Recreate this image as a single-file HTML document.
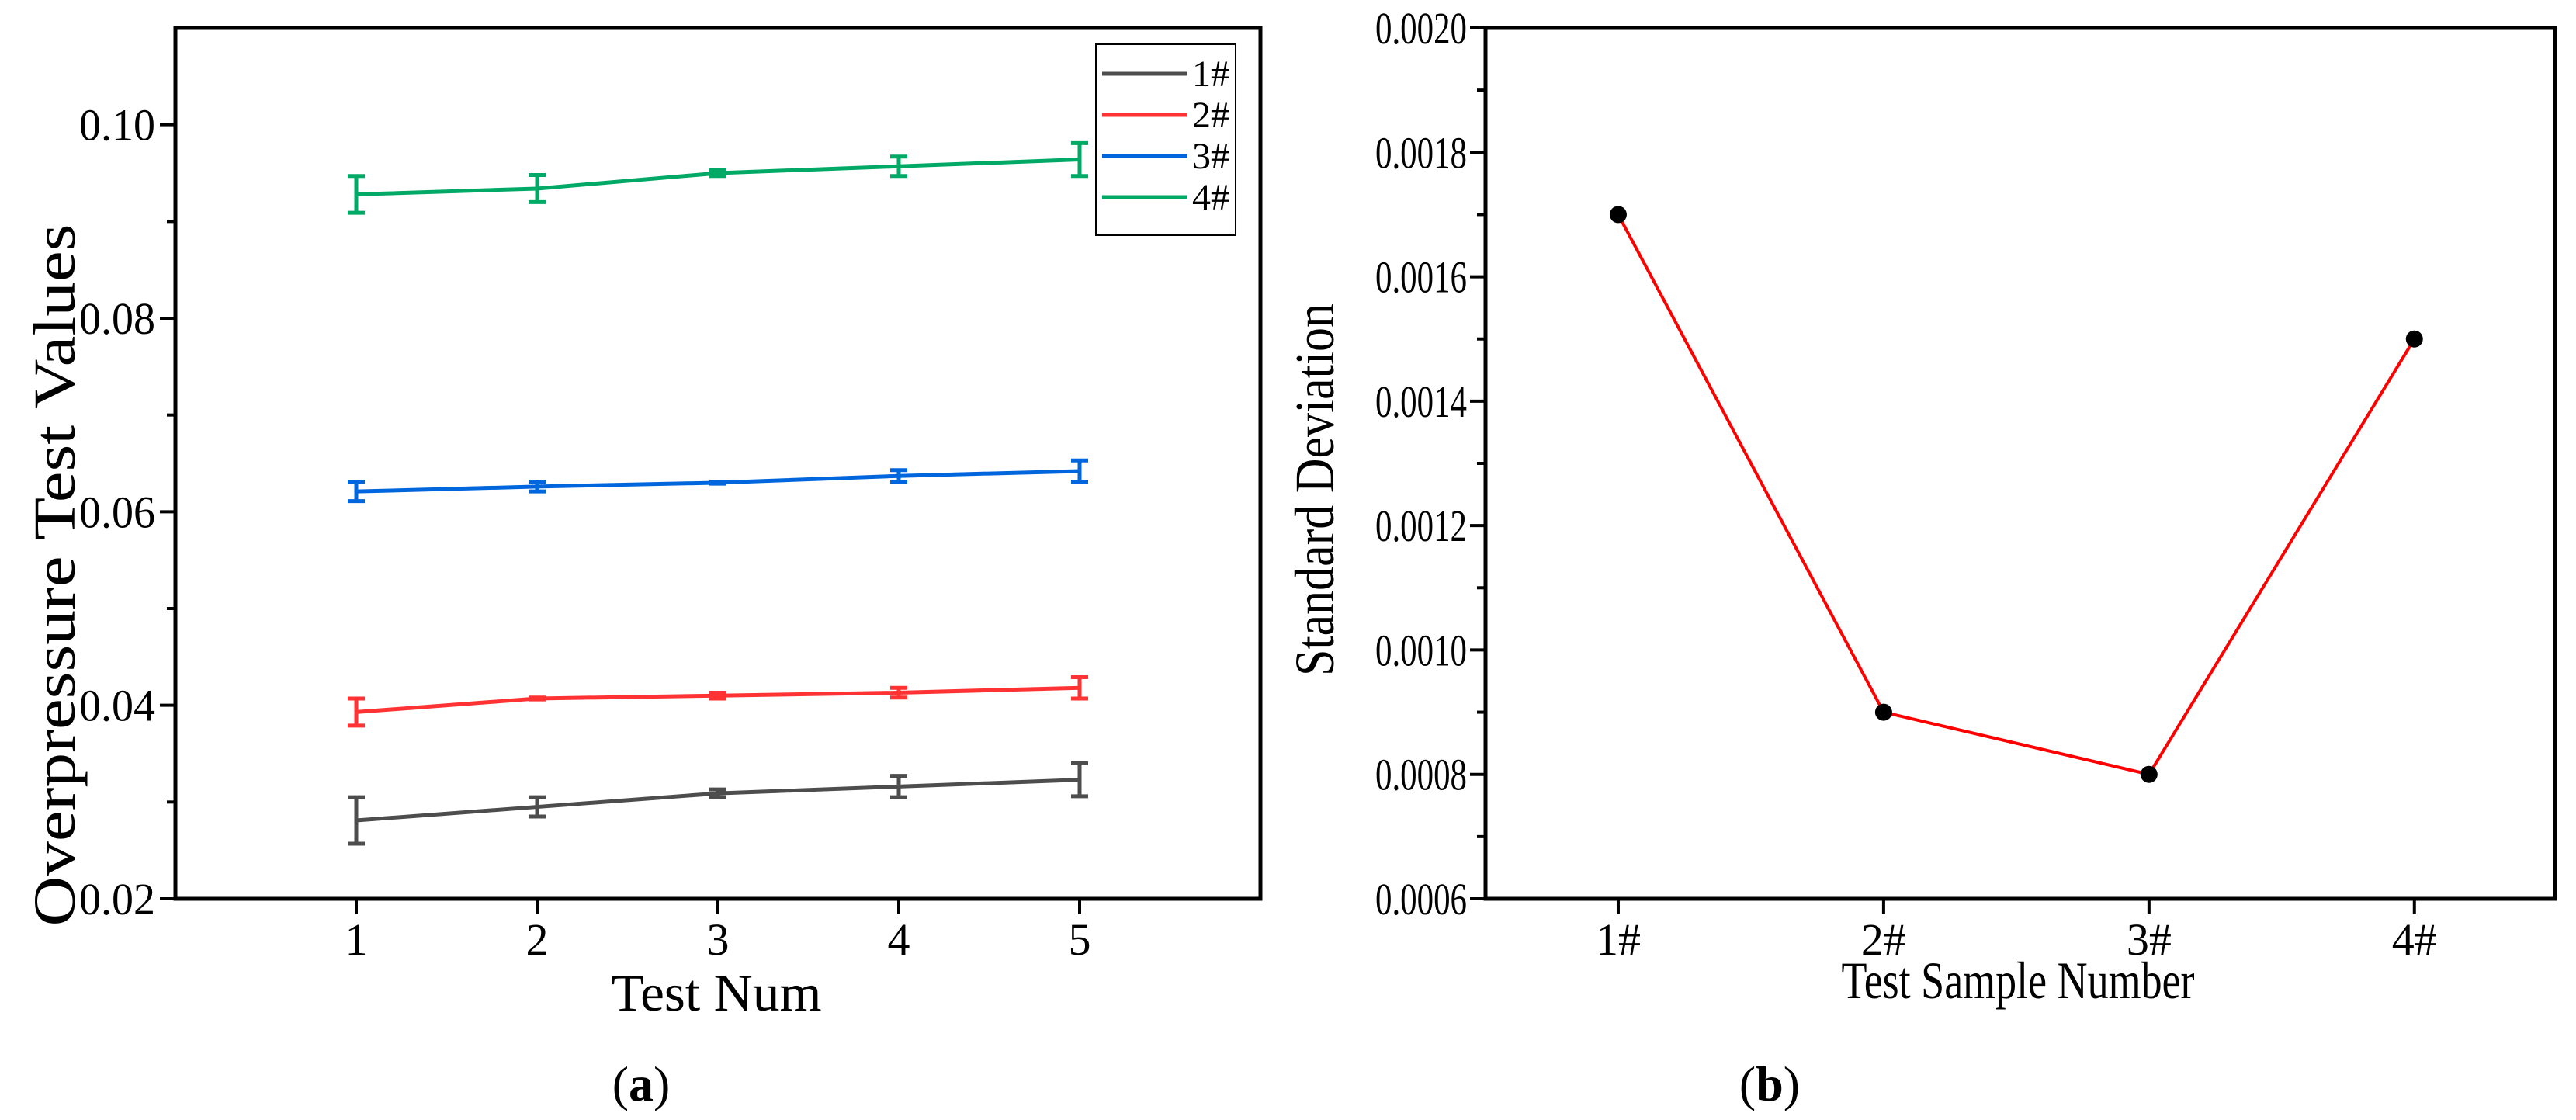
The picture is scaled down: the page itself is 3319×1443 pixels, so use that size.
<!DOCTYPE html>
<html><head><meta charset="utf-8"><style>
body{margin:0;background:#fff}
svg{display:block;font-family:"Liberation Serif",serif}
</style></head><body>
<svg id="s" width="3319" height="1443" viewBox="0 0 3319 1443"></svg>
<script>
// Chart (a) data
const testNums=[1,2,3,4,5];
const seriesNames=["1#","2#","3#","4#"];
const seriesColors=["#4d4d4d","#ff3333","#0066dd","#00aa66"];
const s1=[0.0281,0.0295,0.0309,0.0316,0.0323];
const s2=[0.0393,0.0407,0.0410,0.0413,0.0418];
const s3=[0.0621,0.0626,0.0630,0.0637,0.0642];
const s4=[0.0928,0.0934,0.0950,0.0957,0.0964];
const e1=[0.0024,0.0010,0.0004,0.0011,0.0017];
const e2=[0.0014,0.0001,0.0003,0.0005,0.0011];
const e3=[0.0010,0.0005,0.0001,0.0006,0.0011];
const e4=[0.0019,0.0014,0.0003,0.0010,0.0017];
const aYTicks=[0.02,0.04,0.06,0.08,0.10];
const aYTickLabels=["0.02","0.04","0.06","0.08","0.10"];
// Chart (b) data
const samples=["1#","2#","3#","4#"];
const stdDev=[0.0017,0.0009,0.0008,0.0015];
const bYTicks=[0.0006,0.0008,0.0010,0.0012,0.0014,0.0016,0.0018,0.0020];
const bYTickLabels=["0.0006","0.0008","0.0010","0.0012","0.0014","0.0016","0.0018","0.0020"];

const NS="http://www.w3.org/2000/svg";
const svg=document.getElementById('s');
function mk(tag,attrs,parent){const e=document.createElementNS(NS,tag);for(const k in attrs)e.setAttribute(k,attrs[k]);(parent||svg).appendChild(e);return e;}

// ---- Chart (a) ----
const aL=226,aR=1624,aT=36,aB=1158;
const ax=v=>aL+(v-0)/(6-0)*(aR-aL);
const ay=v=>aB-(v-0.02)/(0.11-0.02)*(aB-aT);
const ga=mk('g',{});


aYTicks.forEach((t,i)=>{
  const l=mk('line',{x1:aL-20,x2:aL,y1:ay(t),y2:ay(t),stroke:'#000','stroke-width':4},ga);
  
  
  const tx=mk('text',{x:aL-26,y:ay(t)+20,'text-anchor':'end','font-size':58,textLength:98,lengthAdjust:'spacingAndGlyphs'},ga);
  tx.textContent=aYTickLabels[i];
  
  
  if(i<aYTicks.length-1){const m=mk('line',{x1:aL-11,x2:aL,y1:ay(t+0.01),y2:ay(t+0.01),stroke:'#000','stroke-width':4},ga);
  
  }
});
testNums.forEach(n=>{
  const l=mk('line',{x1:ax(n),x2:ax(n),y1:aB,y2:aB+20,stroke:'#000','stroke-width':4},ga);
  
  
  const t=mk('text',{x:ax(n),y:aB+72,'text-anchor':'middle','font-size':58},ga);
  t.textContent=n;
  
  
});
const allS=[s1,s2,s3,s4],allE=[e1,e2,e3,e4];
allS.forEach((s,si)=>{
  const g=mk('g',{},ga);
  
  
  const pts=s.map((v,i)=>ax(testNums[i])+','+ay(v)).join(' ');
  const pl=mk('polyline',{points:pts,fill:'none',stroke:seriesColors[si],'stroke-width':5},g);
  
  
  s.forEach((v,i)=>{
    const x=ax(testNums[i]),yt=ay(v+allE[si][i]),yb=ay(v-allE[si][i]);
    const eb=mk('path',{d:`M${x-11},${yt}H${x+11}M${x},${yt}V${yb}M${x-11},${yb}H${x+11}`,stroke:seriesColors[si],'stroke-width':5,fill:'none'},g);
    
    
  });
});
const fa=mk('rect',{x:aL,y:aT,width:aR-aL,height:aB-aT,fill:'none',stroke:'#000','stroke-width':5},ga);


const lg=mk('g',{},ga);


mk('rect',{x:1412,y:57,width:180,height:246,fill:'#fff',stroke:'#000','stroke-width':2},lg);
seriesNames.forEach((n,i)=>{
  const y=95+i*53;
  const le=mk('g',{},lg);
  
  
  mk('line',{x1:1420,x2:1530,y1:y,y2:y,stroke:seriesColors[i],'stroke-width':5},le);
  const t=mk('text',{x:1536,y:y+16,'font-size':48},le);t.textContent=n;
});
const xta=mk('text',{x:923,y:1302,'text-anchor':'middle','font-size':68,textLength:271,lengthAdjust:'spacingAndGlyphs'},ga);
xta.textContent='Test Num';


const yta=mk('text',{x:0,y:0,'text-anchor':'middle','font-size':76,textLength:905,lengthAdjust:'spacingAndGlyphs',transform:'translate(96,741) rotate(-90)'},ga);
yta.textContent='Overpressure Test Values';


const ca=mk('text',{x:826,y:1418,'text-anchor':'middle','font-size':64},ga);
ca.innerHTML='(<tspan font-weight="bold">a</tspan>)';



// ---- Chart (b) ----
const bL=1914,bR=3292,bT=36,bB=1158;
const bx=i=>bL+(i+1-0.5)/(4.53-0.5)*(bR-bL);
const by=v=>bB-(v-0.0006)/(0.0020-0.0006)*(bB-bT);
const gb=mk('g',{});


bYTicks.forEach((t,i)=>{
  const l=mk('line',{x1:bL-20,x2:bL,y1:by(t),y2:by(t),stroke:'#000','stroke-width':4},gb);
  
  
  const tx=mk('text',{x:bL-24,y:by(t)+20,'text-anchor':'end','font-size':58,textLength:118,lengthAdjust:'spacingAndGlyphs'},gb);
  tx.textContent=bYTickLabels[i];
  
  
  if(i<bYTicks.length-1){const m=mk('line',{x1:bL-11,x2:bL,y1:by(t+0.0001),y2:by(t+0.0001),stroke:'#000','stroke-width':4},gb);
  
  }
});
samples.forEach((n,i)=>{
  const l=mk('line',{x1:bx(i),x2:bx(i),y1:bB,y2:bB+20,stroke:'#000','stroke-width':4},gb);
  
  
  const t=mk('text',{x:bx(i),y:bB+72,'text-anchor':'middle','font-size':58},gb);
  t.textContent=n;
  
  
});
const bl=mk('polyline',{points:stdDev.map((v,i)=>bx(i)+','+by(v)).join(' '),fill:'none',stroke:'#ff0000','stroke-width':4},gb);


stdDev.forEach((v,i)=>{
  const c=mk('circle',{cx:bx(i),cy:by(v),r:11,fill:'#000'},gb);
  
  
});
const fb=mk('rect',{x:bL,y:bT,width:bR-bL,height:bB-bT,fill:'none',stroke:'#000','stroke-width':5},gb);


const xtb=mk('text',{x:2600,y:1286,'text-anchor':'middle','font-size':68,textLength:455,lengthAdjust:'spacingAndGlyphs'},gb);
xtb.textContent='Test Sample Number';


const ytb=mk('text',{x:0,y:0,'text-anchor':'middle','font-size':72,textLength:480,lengthAdjust:'spacingAndGlyphs',transform:'translate(1718,631) rotate(-90)'},gb);
ytb.textContent='Standard Deviation';


const cb=mk('text',{x:2280,y:1418,'text-anchor':'middle','font-size':64},gb);
cb.innerHTML='(<tspan font-weight="bold">b</tspan>)';


</script>
</body></html>
